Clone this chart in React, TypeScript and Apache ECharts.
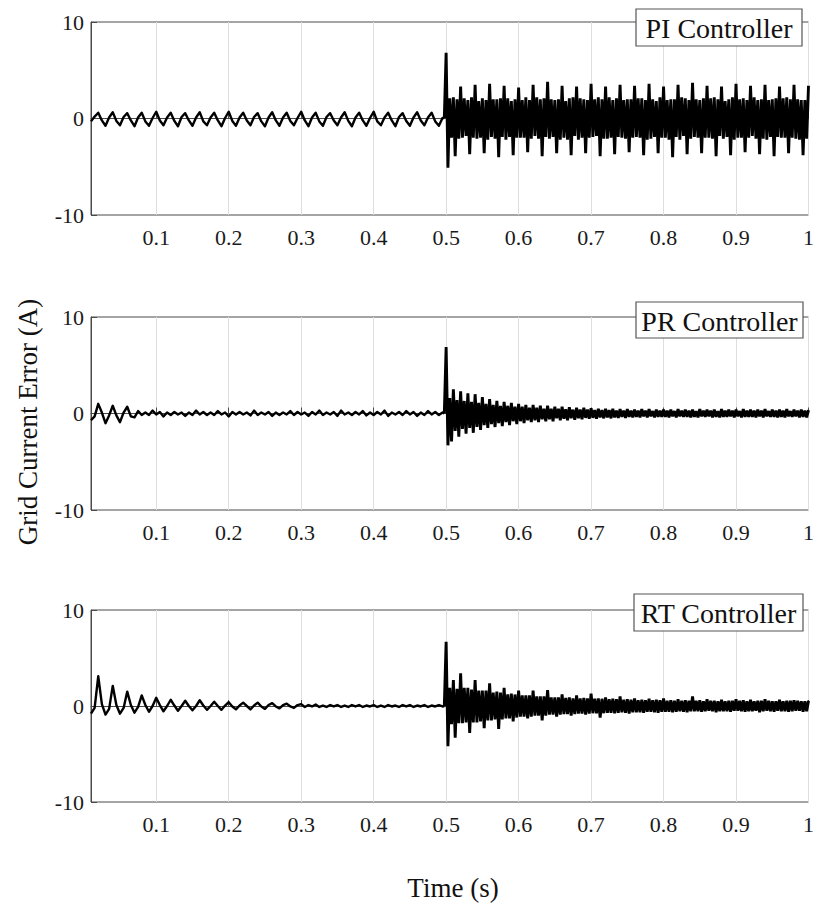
import React, { useEffect, useRef } from "react";
import * as echarts from "echarts";

// ---- sampling grid (seconds) ----
const EARLY_START = 0.01;
const EARLY_STEP = 0.005;
const LATE_START = 0.4975;
const LATE_STEP = 0.0025;

// ---- PI controller: grid current error (A) ----
const piEarly = [
  -0.3, 0.2,
  0.6, -0.2, -0.75, 0.1,
  0.65, -0.25, -0.7, 0.15,
  0.55, -0.2, -0.8, 0.1,
  0.6, -0.3, -0.75, 0.05,
  0.7, -0.2, -0.7, 0.1,
  0.6, -0.25, -0.8, 0.15,
  0.55, -0.2, -0.75, 0.1,
  0.65, -0.3, -0.7, 0.1,
  0.6, -0.2, -0.8, 0.05,
  0.7, -0.25, -0.75, 0.1,
  0.6, -0.2, -0.7, 0.15,
  0.55, -0.3, -0.8, 0.1,
  0.65, -0.2, -0.75, 0.1,
  0.6, -0.25, -0.7, 0.05,
  0.7, -0.2, -0.8, 0.1,
  0.6, -0.3, -0.75, 0.15,
  0.55, -0.2, -0.7, 0.1,
  0.65, -0.25, -0.8, 0.1,
  0.6, -0.2, -0.75, 0.05,
  0.7, -0.3, -0.7, 0.1,
  0.6, -0.2, -0.8, 0.15,
  0.55, -0.25, -0.75, 0.1,
  0.65, -0.2, -0.7, 0.1,
  0.6, -0.3, -0.75, 0.05,
];
const piLate = [
  0.05,
  6.8, -5.1, 2.1, -2.0, 2.2, -3.9, 2.0, -2.1,
  3.3, -2.0, 2.1, -1.8, 1.9, -3.7, 2.2, -2.0,
  3.5, -2.1, 1.8, -2.0, 2.1, -3.6, 1.9, -2.2,
  3.6, -1.9, 2.0, -2.1, 2.0, -4.0, 2.1, -1.9,
  3.4, -2.2, 2.1, -1.9, 1.8, -3.8, 2.0, -2.0,
  3.2, -2.0, 1.9, -2.0, 2.2, -3.5, 1.9, -2.1,
  3.5, -1.8, 2.2, -2.1, 2.0, -3.9, 2.1, -1.9,
  3.8, -2.1, 2.0, -1.9, 1.9, -3.6, 2.0, -2.2,
  3.4, -2.0, 1.8, -2.2, 2.1, -3.8, 2.2, -1.8,
  3.3, -2.2, 2.1, -2.0, 2.0, -3.6, 1.9, -2.0,
  3.6, -1.9, 2.0, -1.8, 2.2, -3.9, 2.0, -2.1,
  3.3, -2.1, 2.2, -2.0, 1.9, -3.7, 2.1, -1.9,
  3.5, -2.0, 1.9, -2.1, 2.0, -3.5, 2.0, -2.0,
  3.4, -1.9, 2.1, -2.0, 2.1, -3.8, 1.9, -2.2,
  3.6, -2.1, 2.0, -1.9, 1.8, -3.6, 2.2, -2.0,
  3.3, -2.0, 1.9, -2.2, 2.0, -4.0, 2.0, -1.9,
  3.5, -2.2, 2.2, -1.8, 2.1, -3.7, 1.9, -2.1,
  3.7, -1.9, 2.0, -2.0, 1.9, -3.6, 2.1, -2.0,
  3.4, -2.0, 2.1, -2.1, 2.2, -3.9, 2.0, -1.8,
  3.3, -2.1, 1.8, -1.9, 2.0, -3.8, 2.2, -2.2,
  3.6, -2.0, 2.0, -2.0, 2.1, -3.5, 1.9, -2.0,
  3.4, -1.8, 2.2, -2.1, 1.9, -3.7, 2.0, -2.1,
  3.5, -2.2, 1.9, -1.9, 2.0, -3.9, 2.1, -1.9,
  3.3, -2.0, 2.1, -2.0, 2.2, -3.6, 2.0, -2.0,
  3.5, -2.1, 2.0, -2.2, 1.9, -3.8, 1.9, -2.1,
  3.4,
];

// ---- PR controller ----
const prEarly = [
  -0.7, -0.3, 1.0, 0.1, -1.0, -0.2, 0.8, -0.2, -0.9, 0.1, 0.7, -0.3,
  -0.4, 0.25, -0.15, 0.1, -0.15, 0.3, -0.1, 0.15, -0.3, 0.1,
  -0.15, 0.15, -0.1, 0.1, -0.25, 0.1, -0.15, 0.3, -0.1, 0.15,
  -0.15, 0.1, -0.15, 0.25, -0.1, 0.1, -0.3, 0.15, -0.1, 0.15,
  -0.1, 0.1, -0.2, 0.3, -0.15, 0.1, -0.1, 0.15, -0.25, 0.1,
  -0.15, 0.1, -0.1, 0.25, -0.15, 0.15, -0.1, 0.1, -0.25, 0.15,
  -0.1, 0.3, -0.15, 0.1, -0.1, 0.15, -0.25, 0.3, -0.1, 0.1,
  -0.15, 0.15, -0.1, 0.25, -0.2, 0.1, -0.15, 0.15, -0.1, 0.3,
  -0.25, 0.1, -0.1, 0.15, -0.15, 0.25, -0.1, 0.15, -0.25, 0.1,
  -0.15, 0.25, -0.1, 0.15, -0.15, 0.1,
];
const prLate = [
  0.0,
  6.9, -3.3, 1.6, -2.9, 2.5, -1.8, 1.4, -2.4,
  2.3, -1.6, 1.3, -2.1, 2.1, -1.5, 1.2, -2.0,
  2.0, -1.4, 1.1, -1.7, 1.7, -1.2, 1.0, -1.5,
  1.5, -1.1, 0.9, -1.4, 1.3, -1.0, 0.8, -1.3,
  1.2, -0.9, 0.8, -1.2, 1.1, -0.8, 0.7, -1.1,
  1.0, -0.8, 0.7, -1.0, 0.9, -0.7, 0.6, -0.9,
  0.9, -0.7, 0.6, -0.9, 0.8, -0.6, 0.5, -0.8,
  0.8, -0.6, 0.5, -0.8, 0.7, -0.5, 0.5, -0.7,
  0.7, -0.55, 0.45, -0.7, 0.65, -0.5, 0.4, -0.65,
  0.6, -0.5, 0.4, -0.6, 0.6, -0.45, 0.4, -0.55,
  0.55, -0.45, 0.35, -0.55, 0.5, -0.4, 0.35, -0.5,
  0.5, -0.4, 0.35, -0.5, 0.5, -0.4, 0.3, -0.45,
  0.45, -0.35, 0.3, -0.45, 0.45, -0.35, 0.3, -0.4,
  0.4, -0.35, 0.3, -0.4, 0.45, -0.3, 0.3, -0.4,
  0.45, -0.3, 0.25, -0.4, 0.4, -0.35, 0.3, -0.35,
  0.4, -0.35, 0.3, -0.4, 0.4, -0.3, 0.25, -0.4,
  0.45, -0.3, 0.3, -0.35, 0.4, -0.35, 0.3, -0.4,
  0.4, -0.35, 0.25, -0.4, 0.45, -0.3, 0.3, -0.35,
  0.4, -0.3, 0.3, -0.4, 0.4, -0.35, 0.25, -0.4,
  0.45, -0.35, 0.3, -0.35, 0.4, -0.3, 0.3, -0.4,
  0.4, -0.3, 0.25, -0.4, 0.45, -0.35, 0.3, -0.35,
  0.4, -0.35, 0.3, -0.4, 0.4, -0.3, 0.3, -0.4,
  0.45, -0.3, 0.25, -0.35, 0.4, -0.35, 0.3, -0.4,
  0.4, -0.35, 0.3, -0.4, 0.45, -0.3, 0.25, -0.35,
  0.4, -0.3, 0.3, -0.4, 0.4, -0.35, 0.3, -0.4,
  0.35,
];

// ---- RT controller ----
const rtEarly = [
  -0.8, -0.2, 3.1, 0.2, -0.9, -0.3, 2.1, 0.1, -0.8, -0.2,
  1.5, 0.1, -0.7, -0.1, 1.1, 0.1, -0.6, 0.0, 0.85, 0.1,
  -0.55, 0.0, 0.65, 0.05, -0.5, 0.0, 0.55, 0.0, -0.45, 0.0,
  0.6, 0.05, -0.4, 0.0, 0.45, 0.0, -0.4, 0.05, 0.4, -0.05,
  -0.35, 0.05, 0.35, 0.0, -0.35, 0.05, 0.35, -0.05, -0.3, 0.1,
  0.3, -0.05, -0.25, 0.1, 0.25, -0.05, -0.2, 0.1, 0.2,
  -0.1, 0.1, -0.05, 0.15, -0.1, 0.05, -0.1, 0.1, -0.05, 0.1,
  -0.1, 0.05, -0.1, 0.1, -0.05, 0.1, -0.1, 0.05, -0.05, 0.1,
  -0.1, 0.05, -0.1, 0.1, -0.05, 0.05, -0.1, 0.1, -0.05, 0.1,
  -0.1, 0.05, -0.05, 0.1, -0.1, 0.05, -0.05, 0.1, -0.05,
];
const rtLate = [
  0.0,
  6.7, -4.2, 1.9, -1.9, 2.7, -3.3, 1.8, -1.8,
  3.4, -1.8, 1.9, -1.7, 1.9, -2.8, 1.7, -1.7,
  2.7, -1.7, 1.6, -1.6, 1.6, -2.3, 1.6, -1.5,
  2.35, -1.5, 1.4, -1.4, 1.5, -2.4, 1.4, -1.4,
  1.9, -1.3, 1.2, -1.3, 1.3, -1.6, 1.2, -1.2,
  1.6, -1.1, 1.1, -1.1, 1.1, -1.3, 1.1, -1.1,
  1.6, -1.0, 1.0, -1.0, 1.0, -1.5, 1.0, -1.0,
  1.65, -0.9, 0.9, -0.9, 0.9, -1.1, 0.9, -0.9,
  1.2, -0.85, 0.85, -0.85, 0.9, -1.0, 0.8, -0.85,
  1.1, -0.8, 0.8, -0.8, 0.85, -0.9, 0.8, -0.8,
  1.3, -0.75, 0.75, -0.75, 0.8, -1.2, 0.75, -0.75,
  0.9, -0.7, 0.7, -0.7, 0.75, -0.75, 0.7, -0.7,
  1.0, -0.65, 0.65, -0.7, 0.7, -0.8, 0.65, -0.65,
  0.8, -0.65, 0.6, -0.65, 0.65, -0.7, 0.6, -0.6,
  0.75, -0.6, 0.6, -0.65, 0.65, -0.7, 0.6, -0.6,
  0.8, -0.6, 0.55, -0.6, 0.6, -0.65, 0.55, -0.6,
  0.7, -0.55, 0.55, -0.6, 0.6, -0.65, 0.55, -0.55,
  1.0, -0.55, 0.55, -0.55, 0.6, -0.6, 0.5, -0.55,
  0.7, -0.5, 0.55, -0.55, 0.55, -0.65, 0.5, -0.55,
  0.65, -0.55, 0.5, -0.55, 0.55, -0.6, 0.55, -0.5,
  0.7, -0.5, 0.55, -0.55, 0.6, -0.6, 0.5, -0.55,
  0.65, -0.55, 0.5, -0.5, 0.55, -0.65, 0.55, -0.55,
  0.7, -0.5, 0.55, -0.55, 0.5, -0.6, 0.5, -0.5,
  0.65, -0.55, 0.5, -0.55, 0.55, -0.6, 0.55, -0.55,
  0.6, -0.5, 0.55, -0.5, 0.5, -0.6, 0.5, -0.55,
  0.55,
];

const panelNames = ["PI Controller", "PR Controller", "RT Controller"];
const yTicks = [-10, 0, 10];
const Y_MIN = -10;
const Y_MAX = 10;
const X_MIN = 0.01;
const X_MAX = 1;
const xAxisTitle = "Time (s)";
const yAxisTitle = "Grid Current Error (A)";

const panels = [
  { early: piEarly, late: piLate },
  { early: prEarly, late: prLate },
  { early: rtEarly, late: rtLate },
];

function earlyPoints(early: number[], firstLate: number) {
  const pts = early.map((v, i) => [+(EARLY_START + i * EARLY_STEP).toFixed(4), v]);
  // join onto the first sample of the late segment so the trace is continuous
  pts.push([LATE_START, firstLate]);
  return pts;
}
function latePoints(late: number[]) {
  return late.map((v, i) => [+(LATE_START + i * LATE_STEP).toFixed(4), v]);
}

const FONT = "'Liberation Serif', 'Times New Roman', serif";
const AXIS_COLOR = "#4a4a4a";

const gridBoxes = [
  { top: 22, height: 193 },
  { top: 317, height: 193 },
  { top: 610, height: 192 },
];
const titleBoxes = [
  { x: 636, y: 9, w: 166, h: 37 },
  { x: 636, y: 302, w: 167, h: 36 },
  { x: 634, y: 594, w: 169, h: 37 },
];

function buildOption() {
  const grid = gridBoxes.map((g) => ({
    left: 91,
    width: 724,
    top: g.top,
    height: g.height,
    show: true,
    borderColor: AXIS_COLOR,
    borderWidth: 1,
    containLabel: false,
  }));
  const xAxis = gridBoxes.map((_, k) => ({
    gridIndex: k,
    type: "value",
    min: X_MIN,
    max: X_MAX,
    splitNumber: 10,
    axisLine: { show: true, lineStyle: { color: AXIS_COLOR, width: 1 } },
    axisTick: { show: true, inside: true, length: 6, lineStyle: { color: AXIS_COLOR } },
    axisLabel: {
      showMinLabel: false,
      fontFamily: FONT,
      fontSize: 22,
      color: "#1a1a1a",
      margin: 11,
    },
    splitLine: { show: true, lineStyle: { color: "#dedede", width: 1 } },
  }));
  const yAxis = gridBoxes.map((_, k) => ({
    gridIndex: k,
    type: "value",
    min: Y_MIN,
    max: Y_MAX,
    interval: 10,
    axisLine: { show: true, lineStyle: { color: AXIS_COLOR, width: 1 } },
    axisTick: { show: true, inside: true, length: 6, lineStyle: { color: AXIS_COLOR } },
    axisLabel: {
      fontFamily: FONT,
      fontSize: 22,
      color: "#1a1a1a",
      margin: 7,
      customValues: yTicks,
    },
    splitLine: { show: false },
  }));
  const series: any[] = [];
  panels.forEach((p, k) => {
    series.push({
      type: "line",
      xAxisIndex: k,
      yAxisIndex: k,
      data: earlyPoints(p.early, p.late[0]),
      showSymbol: false,
      symbol: "none",
      silent: true,
      z: 3,
      lineStyle: { color: "#000", width: 2.4, join: "round" },
    });
    series.push({
      type: "line",
      xAxisIndex: k,
      yAxisIndex: k,
      data: latePoints(p.late),
      showSymbol: false,
      symbol: "none",
      silent: true,
      z: 3,
      lineStyle: { color: "#000", width: 2.9, join: "bevel" },
    });
  });
  const graphic: any[] = [];
  titleBoxes.forEach((b, k) => {
    graphic.push({
      type: "rect",
      z: 100,
      shape: { x: b.x, y: b.y, width: b.w, height: b.h },
      style: { fill: "#fff", stroke: "#555", lineWidth: 1.2 },
    });
    graphic.push({
      type: "text",
      z: 101,
      x: b.x + b.w / 2,
      y: b.y + b.h / 2 + 1,
      style: {
        text: panelNames[k],
        fill: "#111",
        fontSize: 28,
        fontFamily: FONT,
        align: "center",
        verticalAlign: "middle",
        textAlign: "center",
        textVerticalAlign: "middle",
      },
    });
  });
  graphic.push({
    type: "text",
    z: 101,
    x: 453,
    y: 888,
    style: {
      text: xAxisTitle,
      fill: "#111",
      fontSize: 27,
      fontFamily: FONT,
      align: "center",
      verticalAlign: "middle",
      textAlign: "center",
      textVerticalAlign: "middle",
    },
  });
  graphic.push({
    type: "text",
    z: 101,
    x: 28,
    y: 422,
    rotation: Math.PI / 2,
    style: {
      text: yAxisTitle,
      fill: "#111",
      fontSize: 27,
      fontFamily: FONT,
      align: "center",
      verticalAlign: "middle",
      textAlign: "center",
      textVerticalAlign: "middle",
    },
  });
  return {
    animation: false,
    backgroundColor: "#fff",
    grid,
    xAxis,
    yAxis,
    series,
    graphic,
  };
}

export default function App() {
  const ref = useRef<HTMLDivElement>(null);
  useEffect(() => {
    if (!ref.current) return;
    const chart = echarts.init(ref.current, null, { renderer: "svg", width: 817, height: 905 });
    chart.setOption(buildOption() as any);
    return () => chart.dispose();
  }, []);
  return (
    <div
      ref={ref}
      style={{ position: "absolute", left: 0, top: 0, width: 817, height: 905, background: "#fff" }}
    />
  );
}
